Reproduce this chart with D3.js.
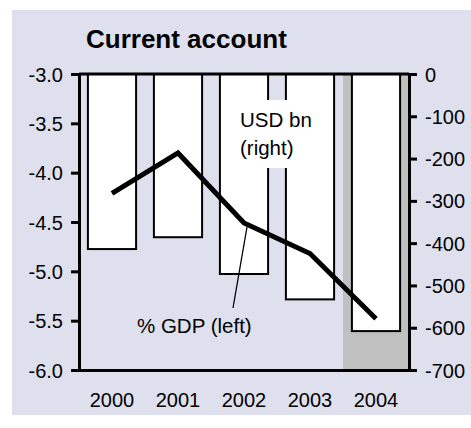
<!DOCTYPE html>
<html>
<head>
<meta charset="utf-8">
<script src="https://cdn.jsdelivr.net/npm/d3@7"></script>
<style>
  body { margin: 0; background: #ffffff; }
  text { font-family: "Liberation Sans", Arial, sans-serif; fill: #000; }
</style>
</head>
<body>
<div id="chart"></div>
<script>
// Data
var years = ["2000", "2001", "2002", "2003", "2004"];
var usdBn = [-414, -386, -473, -533, -608];        // bars, right axis
var pctGdp = [-4.21, -3.80, -4.51, -4.82, -5.48];  // line, left axis
var leftTicks = [-3.0, -3.5, -4.0, -4.5, -5.0, -5.5, -6.0];
var rightTicks = [0, -100, -200, -300, -400, -500, -600, -700];
var shadedYears = ["2004"];

var W = 471, H = 428;
var margin = {left: 79, top: 74, right: 62, bottom: 58};
var w = W - margin.left - margin.right,
    h = H - margin.top - margin.bottom;

// plain hyphen minus, as in the reference
function hy(fmt) {
    return function (d) { return fmt(d).replace("\u2212", "-"); };
}

var svg = d3.select("#chart")
    .append("svg")
    .attr("width", W)
    .attr("height", H);

// panel background
svg.append("rect")
    .attr("x", 12).attr("y", 10)
    .attr("width", W - 12).attr("height", 405)
    .attr("fill", "#dfe0ee");

svg.append("text")
    .attr("x", 86).attr("y", 48)
    .attr("font-size", "26px")
    .attr("font-weight", "bold")
    .text("Current account");

var g = svg.append("g")
    .attr("transform", "translate(" + margin.left + "," + margin.top + ")");

var x = d3.scaleBand().domain(years).range([0, w]);
var yL = d3.scaleLinear().domain([-6, -3]).range([h, 0]);
var yR = d3.scaleLinear().domain([-700, 0]).range([h, 0]);

// shaded forecast column
g.selectAll(".shade")
    .data(shadedYears)
    .enter().append("rect")
    .attr("class", "shade")
    .attr("x", function (d) { return x(d); })
    .attr("y", 0)
    .attr("width", x.bandwidth())
    .attr("height", h)
    .attr("fill", "#c0c0c0");

// bars hang from zero
var barW = x.bandwidth() * 0.73;
g.selectAll(".bar")
    .data(usdBn)
    .enter().append("rect")
    .attr("class", "bar")
    .attr("x", function (d, i) { return x(years[i]) + (x.bandwidth() - barW) / 2; })
    .attr("y", yR(0))
    .attr("width", barW)
    .attr("height", function (d) { return yR(d) - yR(0); })
    .attr("fill", "#ffffff")
    .attr("stroke", "#000")
    .attr("stroke-width", 2);

// label box for the bars
g.append("rect")
    .attr("x", 156).attr("y", 26)
    .attr("width", 84).attr("height", 68)
    .attr("fill", "#ffffff");
g.append("text")
    .attr("x", 161).attr("y", 53)
    .attr("font-size", "20.5px")
    .text("USD bn");
g.append("text")
    .attr("x", 161).attr("y", 81)
    .attr("font-size", "20.5px")
    .text("(right)");

// line
var line = d3.line()
    .x(function (d, i) { return x(years[i]) + x.bandwidth() / 2; })
    .y(function (d) { return yL(d); });

g.append("path")
    .datum(pctGdp)
    .attr("d", line)
    .attr("fill", "none")
    .attr("stroke", "#000")
    .attr("stroke-width", 5)
    .attr("stroke-linejoin", "miter");

// leader for the line label
g.append("line")
    .attr("x1", 154).attr("y1", 234)
    .attr("x2", x("2002") + x.bandwidth() / 2 + 3).attr("y2", yL(pctGdp[2]) + 4)
    .attr("stroke", "#000")
    .attr("stroke-width", 1.3);
g.append("text")
    .attr("x", 58).attr("y", 259)
    .attr("font-size", "20.5px")
    .text("% GDP (left)");

// axes
g.append("g")
    .attr("class", "y axis")
    .call(d3.axisLeft(yL).tickValues(leftTicks).tickSize(8).tickPadding(8)
        .tickFormat(hy(d3.format(".1f"))));

g.append("g")
    .attr("class", "y2 axis")
    .attr("transform", "translate(" + w + ",0)")
    .call(d3.axisRight(yR).tickValues(rightTicks).tickSize(8).tickPadding(8)
        .tickFormat(hy(d3.format("d"))));

g.append("g")
    .attr("class", "x axis")
    .attr("transform", "translate(0," + h + ")")
    .call(d3.axisBottom(x).tickSize(0).tickPadding(23));

// top frame line
g.append("line")
    .attr("x1", 0).attr("x2", w)
    .attr("y1", 0).attr("y2", 0)
    .attr("stroke", "#000")
    .attr("stroke-width", 3);

g.selectAll(".axis path, .axis line")
    .attr("stroke", "#000")
    .attr("stroke-width", 3);
g.selectAll(".axis text")
    .attr("font-size", "20px")
    .attr("font-family", "Liberation Sans, Arial, sans-serif")
    .attr("fill", "#000");
g.selectAll(".y.axis text, .y2.axis text").attr("dy", "0.35em");
</script>
</body>
</html>
